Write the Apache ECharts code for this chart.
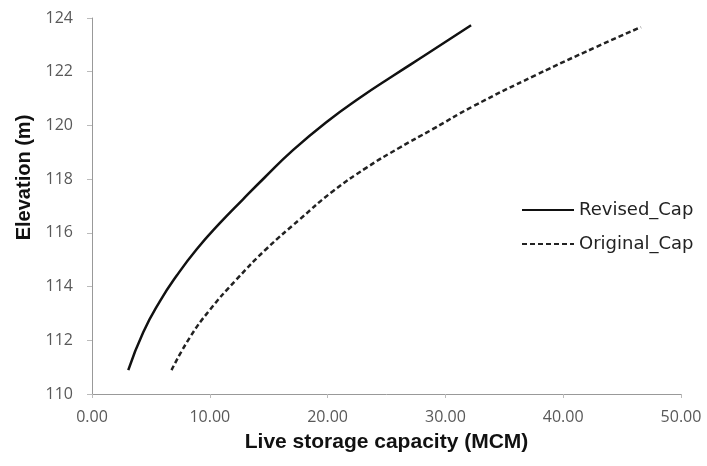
<!DOCTYPE html>
<html><head><meta charset="utf-8">
<script src="https://cdn.jsdelivr.net/npm/echarts@6/dist/echarts.min.js"></script>
<style>html,body{margin:0;padding:0;background:#fff}#c{width:707px;height:466px}</style>
</head><body><div id="c"></div>
<script>
var revisedCap = [3.08, 4.35, 5.76, 7.18, 8.87, 10.85, 12.82, 14.7, 17.06, 19.89, 22.71, 25.53, 28.36, 32.18];
var revisedElev = [110.89, 112.3, 113.45, 114.4, 115.38, 116.36, 117.25, 118.08, 119.08, 120.12, 121.02, 121.84, 122.64, 123.73];
var originalCap = [6.75, 8.3, 10.0, 12.26, 14.8, 17.63, 20.45, 23.28, 26.1, 28.92, 32.3, 37.7, 42.8, 46.6];
var originalElev = [110.89, 112.1, 113.13, 114.26, 115.4, 116.5, 117.55, 118.42, 119.17, 119.86, 120.7, 121.88, 122.92, 123.66];
var seriesNames = ['Revised_Cap', 'Original_Cap'];

function pairs(xs, ys){ return xs.map(function(x,i){return [x, ys[i]];}); }

var chart = echarts.init(document.getElementById('c'));
chart.setOption({
  animation: false,
  grid: {left: 92, right: 26, top: 18, bottom: 72},
  legend: {
    orient: 'vertical', left: 516, top: 196, itemWidth: 52, itemHeight: 14, itemGap: 16,
    textStyle: {fontFamily: 'DejaVu Sans', fontSize: 18, color: '#222'},
    itemStyle: {opacity: 0},
    data: seriesNames
  },
  xAxis: {
    type: 'value', min: 0, max: 50, interval: 10,
    name: 'Live storage capacity (MCM)', nameLocation: 'middle', nameGap: 38,
    nameTextStyle: {fontFamily: 'Liberation Sans', fontWeight: 'bold', fontSize: 21, color: '#111'},
    axisLine: {lineStyle: {color: '#999', width: 1}},
    axisTick: {show: true, length: 4, lineStyle: {color: '#bbb'}},
    axisLabel: {fontFamily: 'Open Sans', fontSize: 16, color: '#595959', margin: 15,
      formatter: function(v){return v.toFixed(2);}},
    splitLine: {show: false}
  },
  yAxis: {
    type: 'value', min: 110, max: 124, interval: 2,
    name: 'Elevation (m)', nameLocation: 'middle', nameGap: 57, nameRotate: 90,
    nameTextStyle: {fontFamily: 'Liberation Sans', fontWeight: 'bold', fontSize: 20, color: '#111',
      padding: [0, 0, 0, 57]},
    axisLine: {show: true, lineStyle: {color: '#999', width: 1}},
    axisTick: {show: true, length: 5, lineStyle: {color: '#bbb'}},
    axisLabel: {fontFamily: 'Open Sans', fontSize: 16, color: '#595959', margin: 19},
    splitLine: {show: false}
  },
  series: [
    {name: seriesNames[0], type: 'line', smooth: 0.5, symbol: 'none',
     lineStyle: {color: '#111', width: 2.5}, itemStyle: {color: '#111'},
     data: pairs(revisedCap, revisedElev)},
    {name: seriesNames[1], type: 'line', smooth: 0.5, symbol: 'none',
     lineStyle: {color: '#222', width: 2.5, type: [5, 3]}, itemStyle: {color: '#222'},
     data: pairs(originalCap, originalElev)}
  ]
});
</script></body></html>
